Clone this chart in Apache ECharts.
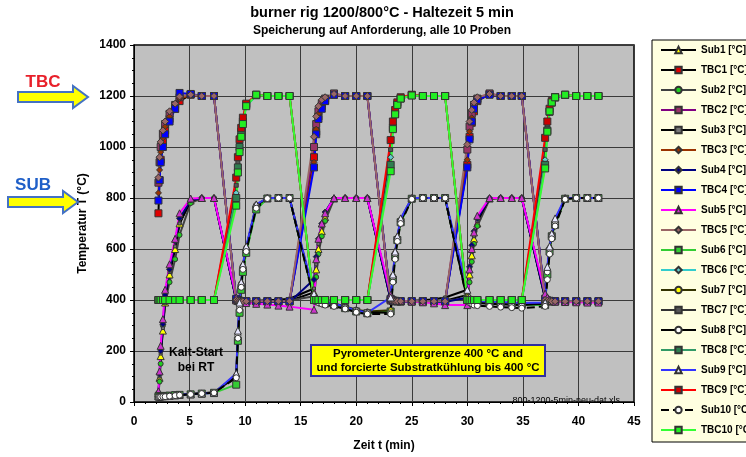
<!DOCTYPE html>
<html>
<head>
<meta charset="utf-8">
<script src="https://cdn.jsdelivr.net/npm/echarts@6/dist/echarts.min.js"></script>
<style>
html,body{margin:0;padding:0;background:#fff;}
#main{width:746px;height:457px;}
</style>
</head>
<body>
<div id="main"></div>
<script>
// Speicherzeitpunkte (min), gemeinsam fuer alle 10 Proben
var zeit = [
  2.2, 2.3, 2.4, 2.6, 2.8, 3.2, 3.7, 4.1, 5.1, 6.1, 7.2,
  9.2, 9.35, 9.5, 9.65, 9.8, 10.1, 11.0, 12.0, 13.0, 14.0,
  16.2, 16.4, 16.6, 16.9, 17.2, 18.0, 19.0, 20.0, 21.0,
  23.1, 23.3, 23.5, 23.7, 24.0, 25.0, 26.0, 27.0, 28.0,
  30.0, 30.2, 30.4, 30.6, 30.9, 32.0, 33.0, 34.0, 34.9,
  37.0, 37.2, 37.4, 37.6, 37.9, 38.8, 39.8, 40.8, 41.8
];

// Proben 1-5
var sub1 = [35,95,180,280,390,500,600,700,790,800,800,
  402,399,397,396,395,395,395,396,396,397,
  430,520,600,670,725,798,800,800,800,
  405,399,397,396,395,395,395,396,397,
  420,500,575,640,700,798,800,800,800,
  412,402,398,396,395,395,395,395,395];
var tbc1 = [740,870,950,1020,1065,1110,1150,1180,1205,1200,1200,
  402,398,397,396,395,395,395,395,395,395,
  960,1060,1120,1160,1182,1205,1200,1200,1200,
  402,398,397,396,395,395,395,395,395,
  930,1040,1095,1140,1180,1207,1200,1200,1200,
  402,398,397,396,395,395,395,395,395];
var sub2 = [30,80,150,300,390,470,560,655,780,800,800,
  400,398,396,395,395,395,395,395,396,398,
  415,490,580,650,710,795,800,800,800,
  402,398,396,395,395,395,395,396,398,
  405,470,550,620,690,795,800,800,800,
  408,400,397,396,395,395,395,395,395];
var tbc2 = [860,940,1000,1050,1090,1130,1165,1195,1207,1200,1200,
  398,396,395,395,395,395,395,395,395,395,
  1000,1090,1140,1170,1190,1210,1200,1200,1200,
  398,396,395,395,395,395,395,395,395,
  990,1080,1130,1165,1190,1210,1200,1200,1200,
  398,396,395,395,395,395,395,395,395];
var sub3 = [32,100,190,290,400,510,610,700,790,800,800,
  400,398,397,396,396,396,397,399,401,405,
  445,540,620,690,740,800,800,800,800,
  400,398,397,396,396,397,399,403,410,
  440,515,590,650,710,800,800,800,800,
  405,400,398,397,396,396,396,396,396];
var tbc3 = [820,910,980,1035,1080,1120,1160,1190,1203,1200,1200,
  400,397,396,395,395,395,395,395,395,395,
  940,1070,1130,1165,1185,1205,1200,1200,1200,
  400,397,396,395,395,395,395,395,395,
  950,1060,1115,1155,1185,1205,1200,1200,1200,
  400,397,396,395,395,395,395,395,395];
var sub4 = [38,110,200,305,420,520,630,720,792,800,800,
  401,398,396,395,394,394,393,393,392,392,
  480,570,640,700,745,800,800,800,800,
  403,398,396,395,394,393,393,392,392,
  410,530,615,670,720,800,800,800,800,
  410,401,397,395,394,394,393,393,393];
var tbc4 = [790,870,940,1000,1050,1100,1150,1212,1208,1200,1200,
  405,398,396,395,395,395,395,395,395,395,
  920,1050,1110,1150,1180,1205,1200,1200,1200,
  405,398,396,395,395,395,395,395,395,
  920,1030,1100,1150,1185,1205,1200,1200,1200,
  405,398,396,395,395,395,395,395,395];
var sub5 = [42,120,220,325,440,540,640,740,798,800,800,
  410,400,396,393,390,388,385,382,378,374,
  362,560,640,700,740,800,800,800,800,
  420,405,400,398,396,394,391,387,380,
  380,520,600,665,730,800,800,800,800,
  425,410,400,396,394,392,391,390,390];
var tbc5 = [880,960,1020,1065,1100,1140,1170,1198,1205,1200,1200,
  400,397,395,395,395,395,395,395,395,395,
  1040,1120,1160,1185,1195,1208,1200,1200,1200,
  400,397,395,395,395,395,395,395,395,
  1010,1100,1145,1175,1195,1208,1200,1200,1200,
  400,397,395,395,395,395,395,395,395];

// Proben 6-10
var sub6 = [22,22,23,23,24,25,27,28,30,33,36,
  68,240,350,440,510,585,755,798,800,800,
  405,398,395,390,386,380,368,355,348,
  355,480,570,635,705,797,800,800,800,
  405,398,394,391,389,387,385,383,381,
  380,500,590,650,695,797,800,800,800];
var tbc6 = [400,400,400,400,400,400,400,400,400,400,400,
  820,930,995,1050,1100,1160,1202,1200,1200,1200,
  400,400,400,400,400,400,400,400,400,
  960,1080,1135,1170,1190,1203,1200,1200,1200,
  400,400,400,400,400,400,400,400,400,
  950,1070,1135,1172,1193,1203,1200,1200,1200];
var sub7 = [21,21,22,22,23,25,27,29,31,34,37,
  105,265,380,465,535,605,772,800,800,800,
  415,402,398,394,390,387,375,362,355,
  360,495,585,645,715,800,800,800,800,
  410,400,396,393,390,388,386,384,382,
  388,520,605,658,710,800,800,800,800];
var tbc7 = [400,400,400,400,400,400,400,400,400,400,400,
  850,940,1010,1065,1110,1168,1204,1200,1200,1200,
  400,400,400,400,400,400,400,400,400,
  990,1090,1140,1172,1192,1204,1200,1200,1200,
  400,400,400,400,400,400,400,400,400,
  990,1085,1140,1175,1195,1204,1200,1200,1200];
var sub8 = [20,20,21,21,22,24,26,27,31,34,37,
  100,260,370,460,530,600,770,800,800,800,
  410,400,396,392,390,385,372,360,352,
  350,490,580,640,710,798,800,800,800,
  400,395,392,390,388,385,383,381,380,
  385,510,600,655,700,798,800,800,800];
var tbc8 = [400,400,400,400,400,400,400,400,400,400,400,
  800,920,1000,1060,1100,1165,1203,1200,1200,1200,
  400,400,400,400,400,400,400,400,400,
  930,1075,1130,1168,1190,1203,1200,1200,1200,
  400,400,400,400,400,400,400,400,400,
  930,1065,1138,1174,1194,1204,1200,1200,1200];
var sub9 = [22,22,22,23,23,24,26,28,30,33,35,
  112,280,390,470,540,610,775,800,800,800,
  425,405,400,395,392,386,373,360,350,
  410,500,590,650,720,800,800,800,800,
  440,410,400,398,396,394,392,390,388,
  390,530,610,660,720,800,800,800,800];
var tbc9 = [400,400,400,400,400,400,400,400,400,400,400,
  880,960,1030,1075,1115,1170,1205,1200,1200,1200,
  400,400,400,400,400,400,400,400,400,
  1027,1100,1145,1175,1195,1205,1200,1200,1200,
  400,400,400,400,400,400,400,400,400,
  1036,1100,1150,1180,1196,1205,1200,1200,1200];
var sub10 = [20,20,20,21,21,23,25,27,30,33,36,
  95,250,360,450,520,590,760,798,800,800,
  400,395,390,385,380,375,365,352,345,
  345,470,560,630,700,795,800,800,800,
  395,390,385,380,378,375,372,370,368,
  375,480,580,640,690,795,800,800,800];
var tbc10 = [400,400,400,400,400,400,400,400,400,400,400,
  770,900,980,1040,1090,1160,1205,1200,1200,1200,
  400,400,400,400,400,400,400,400,400,
  905,1070,1128,1165,1190,1202,1200,1200,1200,
  400,400,400,400,400,400,400,400,400,
  916,1060,1140,1175,1195,1205,1200,1200,1200];

var namen = ['Sub1 [°C]','TBC1 [°C]','Sub2 [°C]','TBC2 [°C]','Sub3 [°C]','TBC3 [°C]',
  'Sub4 [°C]','TBC4 [°C]','Sub5 [°C]','TBC5 [°C]','Sub6 [°C]','TBC6 [°C]',
  'Sub7 [°C]','TBC7 [°C]','Sub8 [°C]','TBC8 [°C]','Sub9 [°C]','TBC9 [°C]',
  'Sub10 [°C]','TBC10 [°C]'];
var werte = [sub1,tbc1,sub2,tbc2,sub3,tbc3,sub4,tbc4,sub5,tbc5,
  sub6,tbc6,sub7,tbc7,sub8,tbc8,sub9,tbc9,sub10,tbc10];

// Linienfarbe, Symbol, Symbolfarbe, Groesse, gestrichelt
var stil = [
  ['#000000','triangle','#ffff00',7,false],
  ['#000000','rect','#e00000',7,false],
  ['#404040','circle','#22cc22',5,false],
  ['#800080','rect','#993366',7,false],
  ['#000000','rect','#777777',3,false],
  ['#993300','diamond','#993300',6,false],
  ['#000080','diamond','#000080',6,false],
  ['#0000ff','rect','#0000ff',7,false],
  ['#ff00ff','triangle','#cc33cc',7,false],
  ['#996666','diamond','#996666',7,false],
  ['#33cc33','rect','#33cc33',7,false],
  ['#33cccc','diamond','#66cccc',6,false],
  ['#333300','circle','#ffff00',5,false],
  ['#333333','rect','#555555',4,false],
  ['#000000','circle','#ffffff',6,false],
  ['#339966','rect','#2e7d4f',7,false],
  ['#3333ff','triangle','#e8e8ff',7,false],
  ['#ff0000','rect','#cc0000',7,false],
  ['#000000','circle','#ffffff',6,true],
  ['#33ff33','rect','#22ee22',7,false]
];

var FONT = 'Liberation Sans, Arial, sans-serif';
var myChart = echarts.init(document.getElementById('main'));

var series = [];
for (var i = 0; i < namen.length; i++) {
  var d = [];
  for (var k = 0; k < zeit.length; k++) d.push([zeit[k], werte[i][k]]);
  var s = stil[i];
  series.push({
    name: namen[i],
    type: 'line',
    data: d,
    symbol: s[1],
    symbolSize: s[3],
    lineStyle: {color: s[0], width: 2, type: s[4] ? 'dashed' : 'solid'},
    itemStyle: {color: s[2], borderColor: '#333', borderWidth: 1},
    emphasis: {disabled: true}
  });
}

var option = {
  animation: false,
  grid: {
    left: 134, right: 112, top: 45, bottom: 46,
    show: true, backgroundColor: '#c0c0c0', borderColor: '#000', borderWidth: 1.5
  },
  xAxis: {
    type: 'value', min: 0, max: 45, interval: 5,
    name: 'Zeit t (min)', nameLocation: 'middle', nameGap: 38,
    nameTextStyle: {fontFamily: FONT, fontWeight: 'bold', fontSize: 12, color: '#000'},
    axisLine: {lineStyle: {color: '#000'}},
    axisTick: {length: 4, lineStyle: {color: '#000'}},
    minorTick: {show: true, splitNumber: 5, length: 2, lineStyle: {color: '#000'}},
    axisLabel: {fontFamily: FONT, fontWeight: 'bold', fontSize: 12, color: '#000', margin: 14},
    splitLine: {lineStyle: {color: '#3a3a3a', width: 1}}
  },
  yAxis: {
    type: 'value', min: 0, max: 1400, interval: 200,
    name: 'Temperatur T (°C)', nameLocation: 'middle', nameGap: 33,
    nameTextStyle: {fontFamily: FONT, fontWeight: 'bold', fontSize: 12, color: '#000'},
    axisLine: {show: true, lineStyle: {color: '#000'}},
    axisTick: {show: true, length: 4, lineStyle: {color: '#000'}},
    minorTick: {show: true, splitNumber: 4, length: 2, lineStyle: {color: '#000'}},
    axisLabel: {fontFamily: FONT, fontWeight: 'bold', fontSize: 12, color: '#000', margin: 8,
      formatter: function (v) { return String(v); }},
    splitLine: {lineStyle: {color: '#3a3a3a', width: 1}}
  },
  legend: {
    orient: 'vertical', left: 652, top: 40,
    padding: [3, 10, 5, 8],
    itemGap: 6, itemWidth: 35, itemHeight: 8,
    backgroundColor: '#ffffe0', borderColor: '#000', borderWidth: 1,
    textStyle: {fontFamily: FONT, fontWeight: 'bold', fontSize: 10, color: '#000', lineHeight: 14},
    data: namen
  },
  graphic: [
    {type: 'text', x: 382, y: 13, z: 100, style: {text: 'burner rig 1200/800°C - Haltezeit 5 min', font: 'bold 14.5px ' + FONT, fill: '#000', textAlign: 'center', textVerticalAlign: 'middle'}},
    {type: 'text', x: 382, y: 31, z: 100, style: {text: 'Speicherung auf Anforderung, alle 10 Proben', font: 'bold 12px ' + FONT, fill: '#000', textAlign: 'center', textVerticalAlign: 'middle'}},
    {type: 'text', x: 43, y: 82, z: 100, style: {text: 'TBC', font: 'bold 17px ' + FONT, fill: '#e8202a', textAlign: 'center', textVerticalAlign: 'middle'}},
    {type: 'polygon', z: 100, shape: {points: [[18,92],[73,92],[73,86],[88,97],[73,108],[73,102],[18,102]]}, style: {fill: '#ffff00', stroke: '#4472c4', lineWidth: 2}},
    {type: 'text', x: 33, y: 185, z: 100, style: {text: 'SUB', font: 'bold 17px ' + FONT, fill: '#1f5fc8', textAlign: 'center', textVerticalAlign: 'middle'}},
    {type: 'polygon', z: 100, shape: {points: [[8,197],[63,197],[63,191],[78,202],[63,213],[63,207],[8,207]]}, style: {fill: '#ffff00', stroke: '#4472c4', lineWidth: 2}},
    {type: 'text', x: 196, y: 353, z: 100, style: {text: 'Kalt-Start', font: 'bold 12px ' + FONT, fill: '#000', textAlign: 'center', textVerticalAlign: 'middle'}},
    {type: 'text', x: 196, y: 368, z: 100, style: {text: 'bei RT', font: 'bold 12px ' + FONT, fill: '#000', textAlign: 'center', textVerticalAlign: 'middle'}},
    {type: 'rect', z: 100, shape: {x: 311, y: 345, width: 234, height: 31}, style: {fill: '#ffff00', stroke: '#3030a0', lineWidth: 2}},
    {type: 'text', x: 428, y: 354, z: 101, style: {text: 'Pyrometer-Untergrenze 400 °C and', font: 'bold 11.5px ' + FONT, fill: '#000', textAlign: 'center', textVerticalAlign: 'middle'}},
    {type: 'text', x: 428, y: 368, z: 101, style: {text: 'und forcierte Substratkühlung bis 400 °C', font: 'bold 11.5px ' + FONT, fill: '#000', textAlign: 'center', textVerticalAlign: 'middle'}},
    {type: 'text', x: 620, y: 401, z: 100, style: {text: '800-1200-5min-neu-dat.xls', font: '9px ' + FONT, fill: '#000', textAlign: 'right', textVerticalAlign: 'middle'}}
  ],
  series: series
};
myChart.setOption(option);
</script>
</body>
</html>
